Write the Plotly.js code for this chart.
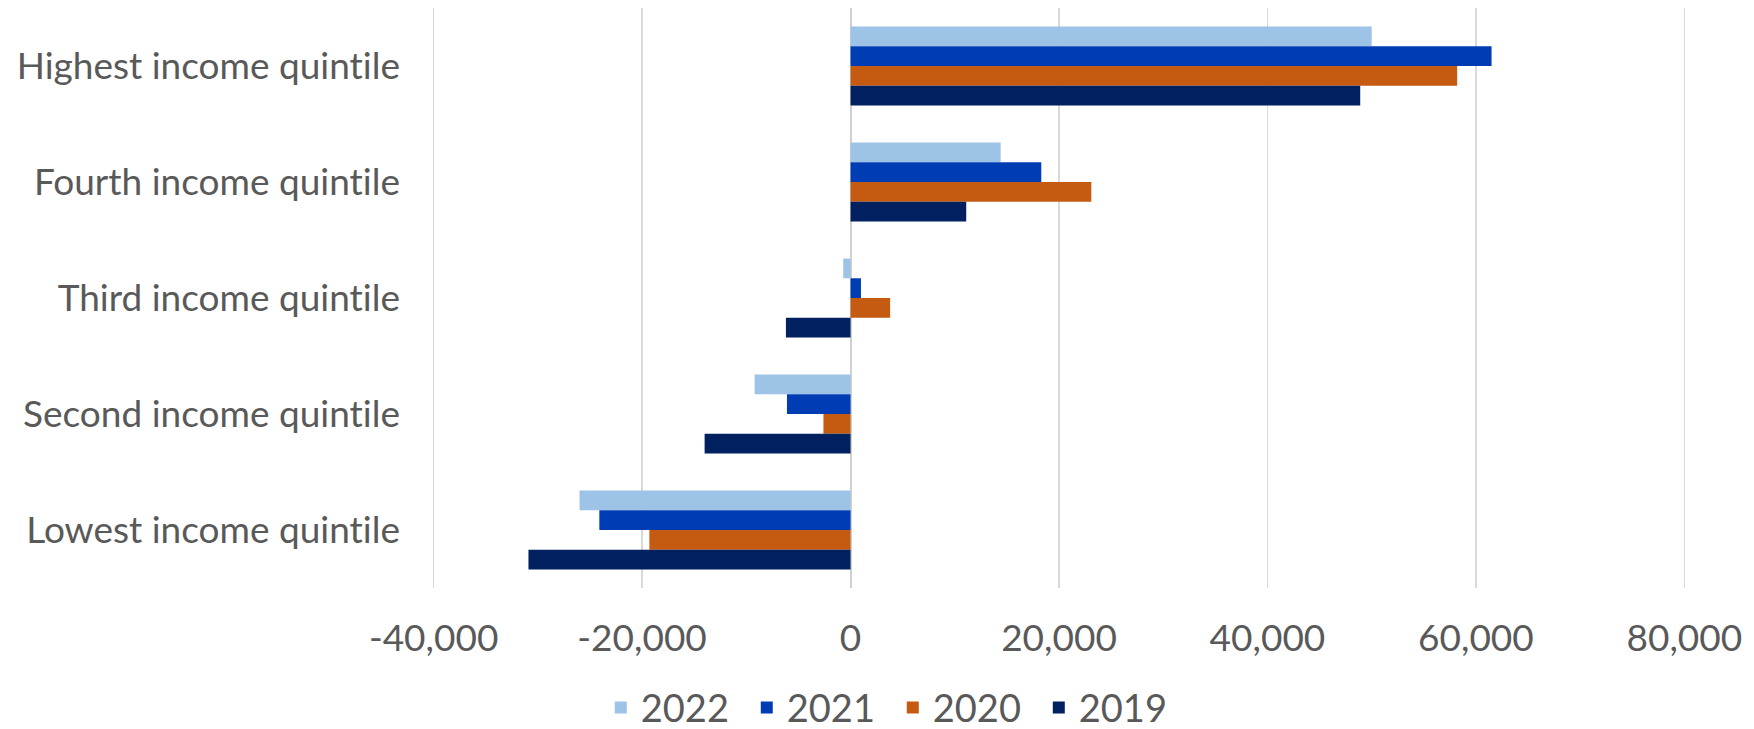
<!DOCTYPE html>
<html>
<head>
<meta charset="utf-8">
<script src="https://cdn.plot.ly/plotly-3.0.1.min.js"></script>
<style>
  html, body { margin: 0; padding: 0; background: #ffffff; }
  #chart { width: 1754px; height: 729px; }
  #chart svg text {
    font-variant-ligatures: none !important;
    font-feature-settings: "liga" 0, "clig" 0, "dlig" 0 !important;
  }
</style>
</head>
<body>
<div id="chart"></div>
<script>
// Income quintiles, top to bottom
const quintiles = [
  "Highest income quintile",
  "Fourth income quintile",
  "Third income quintile",
  "Second income quintile",
  "Lowest income quintile"
];

// Values per year, in the same order as the quintiles
const y2022 = [50000, 14400, -700, -9200, -26000];
const y2021 = [61500, 18300, 1000, -6100, -24100];
const y2020 = [58200, 23100, 3800, -2600, -19300];
const y2019 = [48900, 11100, -6200, -14000, -30900];

const years = ["2022", "2021", "2020", "2019"];
const colors = ["#9DC3E6", "#003CB4", "#C55A11", "#002060"];
const seriesValues = [y2022, y2021, y2020, y2019];

const tickVals = [-40000, -20000, 0, 20000, 40000, 60000, 80000];
const tickText = ["-40,000", "-20,000", "0", "20,000", "40,000", "60,000", "80,000"];

const textColor = "#595959";

const traces = years.map((yr, i) => ({
  type: "bar",
  orientation: "h",
  name: yr,
  y: quintiles,
  x: seriesValues[i],
  marker: { color: colors[i], line: { width: 0 } },
  hoverinfo: "y+x+name"
}));

const layout = {
  width: 1754,
  height: 729,
  // range is padded a little so the outer gridlines stay inside the plot
  margin: { l: 430.5, r: 66.5, t: 8, b: 141, autoexpand: false },
  paper_bgcolor: "#ffffff",
  plot_bgcolor: "#ffffff",
  font: { family: "Lato, 'Open Sans', sans-serif", color: textColor },
  barmode: "group",
  bargap: 0.32,
  bargroupgap: 0,
  showlegend: true,
  xaxis: {
    range: [-40250, 80250],
    tickvals: tickVals,
    ticktext: tickText,
    showgrid: true,
    gridcolor: "#D9D9D9",
    gridwidth: 1.5,
    zeroline: true,
    zerolinecolor: "#D0D0D0",
    zerolinewidth: 2,
    showline: false,
    ticks: "",
    ticklabelstandoff: 25,
    tickfont: { family: "Lato", size: 37, color: textColor },
    fixedrange: true
  },
  yaxis: {
    type: "category",
    autorange: "reversed",
    showgrid: false,
    zeroline: false,
    showline: false,
    ticks: "",
    ticklabelstandoff: 30,
    tickfont: { family: "Lato", size: 37, color: textColor },
    fixedrange: true
  },
  legend: {
    orientation: "h",
    xref: "container",
    yref: "container",
    x: 0.509,
    xanchor: "center",
    y: 0.029,
    yanchor: "middle",
    font: { family: "Lato", size: 38, color: textColor },
    entrywidth: 101,
    entrywidthmode: "pixels",
    itemclick: false,
    itemdoubleclick: false
  }
};

Plotly.newPlot("chart", traces, layout, { displayModeBar: false, staticPlot: true });
</script>
</body>
</html>
